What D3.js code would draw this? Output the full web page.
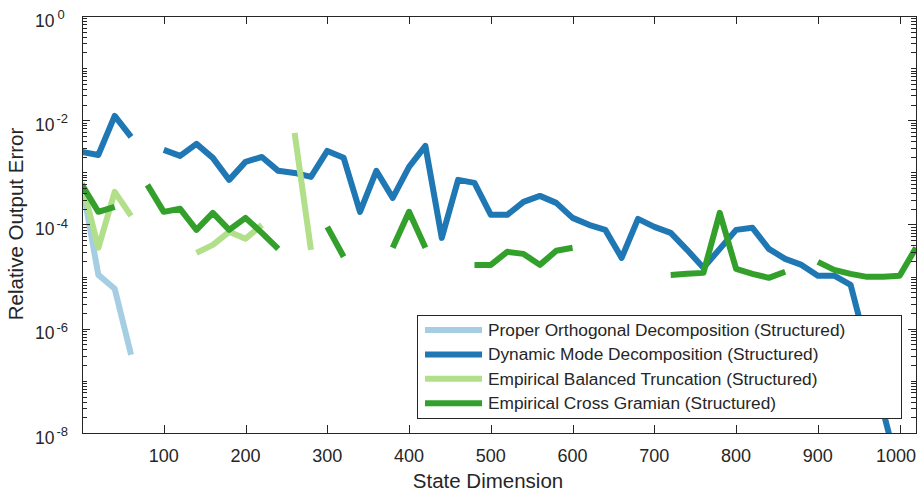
<!DOCTYPE html>
<html>
<head>
<meta charset="utf-8">
<script src="https://cdn.jsdelivr.net/npm/d3@7"></script>
<style>
  html, body { margin: 0; padding: 0; background: #fff; }
  svg { display: block; font-family: "Liberation Sans", Arial, Helvetica, sans-serif; }
  .axis-line { stroke: #262626; stroke-width: 1; fill: none; shape-rendering: crispEdges; }
  .tick { stroke: #262626; stroke-width: 1; shape-rendering: crispEdges; }
  .tick-label { fill: #262626; }
  .series { fill: none; stroke-width: 6; stroke-linejoin: round; stroke-linecap: butt; }
</style>
</head>
<body>
<svg id="chart" width="918" height="491"></svg>
<script>
// State dimension at each sample (x axis)
const dims = [
  0, 20, 40, 60, 80, 100, 120, 140, 160, 180,
  200, 220, 240, 260, 280, 300, 320, 340, 360, 380,
  400, 420, 440, 460, 480, 500, 520, 540, 560, 580,
  600, 620, 640, 660, 680, 700, 720, 740, 760, 780,
  800, 820, 840, 860, 880, 900, 920, 940, 960, 980,
  1000, 1020,
];

// Relative output error per method (null = no value / gap in the line)
const podValues = [6.01e-4, 1.08e-5, 5.83e-6, 3.17e-7];

const dmdValues = [
  2.47e-3, 2.16e-3, 1.21e-2, 4.79e-3, null, 2.70e-3, 2.07e-3, 3.52e-3, 1.90e-3, 7.18e-4,
  1.59e-3, 1.98e-3, 1.07e-3, 9.77e-4, 8.19e-4, 2.58e-3, 1.90e-3, 1.75e-4, 1.07e-3, 3.24e-4,
  1.27e-3, 3.22e-3, 5.54e-5, 7.18e-4, 6.28e-4, 1.53e-4, 1.53e-4, 2.72e-4, 3.54e-4, 2.60e-4,
  1.34e-4, 9.84e-5, 7.89e-5, 2.29e-5, 1.28e-4, 9.01e-5, 6.91e-5, 3.27e-5, 1.48e-5, 3.41e-5,
  7.89e-5, 8.63e-5, 3.41e-5, 2.19e-5, 1.68e-5, 1.04e-5, 1.04e-5, 6.97e-6, 4.31e-7, 2.56e-8,
  1.52e-9, null,
];

const ebtValues = [
  6.28e-4, 3.57e-5, 4.22e-4, 1.46e-4, null, null, null, 2.86e-5, 4.07e-5, 7.23e-5,
  5.31e-5, 9.84e-5, null, 5.71e-3, 3.27e-5,
];

const ecgValues = [
  5.75e-4, 1.75e-4, 2.18e-4, null, 5.75e-4, 1.75e-4, 2.00e-4, 7.89e-5, 1.67e-4, 7.89e-5,
  1.34e-4, 6.91e-5, 3.41e-5, null, null, 9.01e-5, 2.40e-5, null, null, 3.57e-5,
  1.75e-4, 3.57e-5, null, null, 1.68e-5, 1.68e-5, 2.99e-5, 2.73e-5, 1.68e-5, 3.13e-5,
  3.57e-5, null, null, null, null, null, 1.08e-5, 1.13e-5, 1.18e-5, 1.67e-4,
  1.41e-5, 1.13e-5, 9.48e-6, 1.24e-5, null, 1.92e-5, 1.35e-5, 1.13e-5, 9.91e-6, 9.91e-6,
  1.04e-5, 3.57e-5,
];

const seriesNames = [
  'Proper Orthogonal Decomposition (Structured)',
  'Dynamic Mode Decomposition (Structured)',
  'Empirical Balanced Truncation (Structured)',
  'Empirical Cross Gramian (Structured)',
];
const seriesColors = ['#a6cee3', '#1f78b4', '#b2df8a', '#33a02c'];

const xTicks = [100, 200, 300, 400, 500, 600, 700, 800, 900, 1000];
const yDecades = [0, -2, -4, -6, -8];

const xLabel = 'State Dimension';
const yLabel = 'Relative Output Error';

// ---- layout ----
const plot = { left: 82, right: 916, top: 16, bottom: 433 };
const svg = d3.select('#chart');

const xScale = d3.scaleLinear().domain([0, 1020]).range([plot.left, plot.right]);
const yScale = d3.scaleLog().domain([1e-8, 1]).range([plot.bottom, plot.top]);

const series = [podValues, dmdValues, ebtValues, ecgValues].map((values, i) => ({
  name: seriesNames[i],
  color: seriesColors[i],
  points: values.map((v, j) => ({ x: dims[j], y: v })),
}));

svg.append('defs')
  .append('clipPath')
  .attr('id', 'plot-clip')
  .append('rect')
  .attr('x', plot.left)
  .attr('y', plot.top)
  .attr('width', plot.right - plot.left)
  .attr('height', plot.bottom - plot.top);

// ---- lines ----
const line = d3.line()
  .defined((d) => d.y != null)
  .x((d) => xScale(d.x))
  .y((d) => yScale(d.y));

svg.append('g')
  .attr('clip-path', 'url(#plot-clip)')
  .selectAll('.series')
  .data(series)
  .join('path')
  .attr('class', 'series')
  .attr('stroke', (d) => d.color)
  .attr('d', (d) => line(d.points));

// ---- axes (box with ticks on all four sides, pointing inward) ----
const axes = svg.append('g');
axes.append('rect')
  .attr('class', 'axis-line')
  .attr('x', plot.left)
  .attr('y', plot.top)
  .attr('width', plot.right - plot.left)
  .attr('height', plot.bottom - plot.top);

const majorLen = 8;
const minorLen = 5;

xTicks.forEach((t, i) => {
  const x = Math.round(xScale(t)) + 0.5;
  axes.append('line').attr('class', 'tick')
    .attr('x1', x).attr('x2', x).attr('y1', plot.bottom).attr('y2', plot.bottom - majorLen);
  axes.append('line').attr('class', 'tick')
    .attr('x1', x).attr('x2', x).attr('y1', plot.top).attr('y2', plot.top + majorLen);
  // last label is pulled in so it stays inside the figure
  const isLast = i === xTicks.length - 1;
  axes.append('text').attr('class', 'tick-label')
    .attr('x', isLast ? plot.right : xScale(t))
    .attr('y', plot.bottom + 29)
    .attr('text-anchor', isLast ? 'end' : 'middle')
    .style('font-size', '18px')
    .text(t);
});

// log ticks: majors at labelled decades, minors at 2..9 and at odd decades
const yMinor = [];
for (let e = -8; e < 0; e++) {
  for (let m = 1; m <= 9; m++) {
    if (m === 1 && e % 2 === 0) continue;
    yMinor.push(m * Math.pow(10, e));
  }
}
yMinor.forEach((v) => {
  const y = Math.round(yScale(v)) + 0.5;
  axes.append('line').attr('class', 'tick')
    .attr('x1', plot.left).attr('x2', plot.left + minorLen).attr('y1', y).attr('y2', y);
  axes.append('line').attr('class', 'tick')
    .attr('x1', plot.right).attr('x2', plot.right - minorLen).attr('y1', y).attr('y2', y);
});

yDecades.forEach((e) => {
  const yv = yScale(Math.pow(10, e));
  const y = Math.round(yv) + 0.5;
  axes.append('line').attr('class', 'tick')
    .attr('x1', plot.left).attr('x2', plot.left + majorLen).attr('y1', y).attr('y2', y);
  axes.append('line').attr('class', 'tick')
    .attr('x1', plot.right).attr('x2', plot.right - majorLen).attr('y1', y).attr('y2', y);

  const label = axes.append('text').attr('class', 'tick-label')
    .attr('x', 35)
    .attr('y', yv + 10.5)
    .style('font-size', '17.5px');
  label.append('tspan').text('10');
  label.append('tspan')
    .attr('dx', e < 0 ? 2 : 3)
    .attr('dy', -7.5)
    .style('font-size', '13px')
    .text(e < 0 ? '-' + Math.abs(e) : String(e));
});

// axis titles
svg.append('text')
  .attr('class', 'tick-label')
  .attr('x', 488)
  .attr('y', 488)
  .attr('text-anchor', 'middle')
  .style('font-size', '20.5px')
  .text(xLabel);

svg.append('text')
  .attr('class', 'tick-label')
  .attr('transform', 'translate(23,224) rotate(-90)')
  .attr('text-anchor', 'middle')
  .style('font-size', '20.5px')
  .text(yLabel);

// ---- legend ----
const legend = svg.append('g').attr('transform', 'translate(417,315)');
legend.append('rect')
  .attr('width', 484)
  .attr('height', 103)
  .attr('fill', '#fff')
  .attr('stroke', '#262626')
  .attr('stroke-width', 1)
  .style('shape-rendering', 'crispEdges');

const legendItems = legend.selectAll('.legend-item')
  .data(series)
  .join('g')
  .attr('class', 'legend-item')
  .attr('transform', (_, i) => `translate(0, ${15 + i * 24.4})`);

legendItems.append('line')
  .attr('x1', 8)
  .attr('x2', 65)
  .attr('stroke', (d) => d.color)
  .attr('stroke-width', 6);

legendItems.append('text')
  .attr('class', 'tick-label')
  .attr('x', 71)
  .attr('y', 6)
  .style('font-size', '17.3px')
  .text((d) => d.name);
</script>
</body>
</html>
